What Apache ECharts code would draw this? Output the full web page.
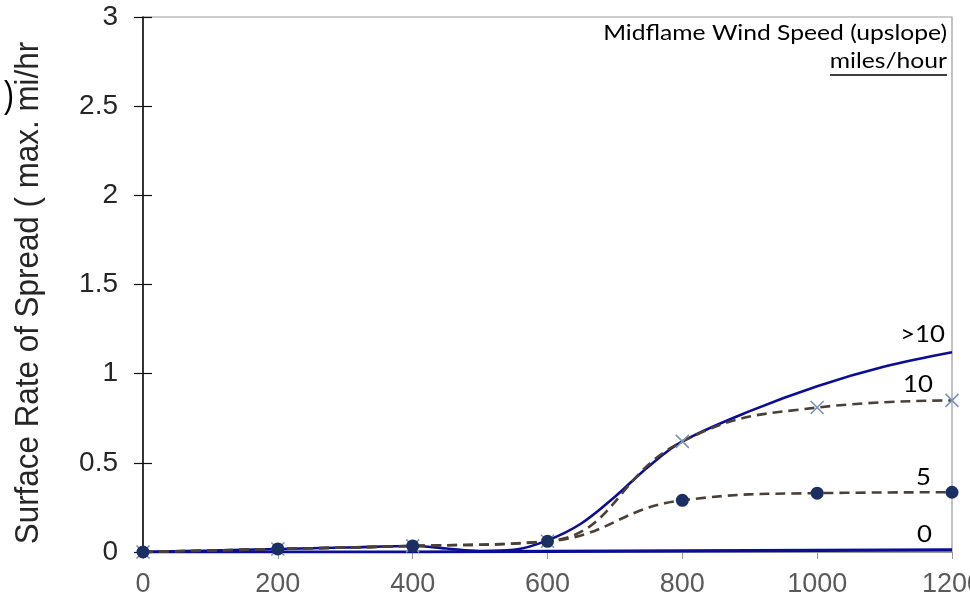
<!DOCTYPE html>
<html>
<head>
<meta charset="utf-8">
<script src="https://cdn.jsdelivr.net/npm/echarts@6/dist/echarts.min.js"></script>
<style>html,body{margin:0;padding:0;background:#fff}#c{width:970px;height:607px}</style>
</head>
<body>
<div id="c"></div>
<script>
// ---- data ----
const xTicks = [0, 200, 400, 600, 800, 1000, 1200];
const speed0 = [0, 0, 0, 0.003, 0.006, 0.009, 0.012];
const speed5 = [0, 0.017, 0.034, 0.06, 0.29, 0.33, 0.335];
const speed10 = [0, 0.017, 0.034, 0.06, 0.62, 0.81, 0.85];
const over10X = [0, 100, 200, 300, 400, 450, 500, 550, 600, 650, 700, 750, 800, 900, 1000, 1100, 1200];
const over10 = [0, 0.008, 0.017, 0.025, 0.034, 0.02, 0.006, 0.012, 0.065, 0.16, 0.31, 0.48, 0.62, 0.79, 0.93, 1.04, 1.12];
const seriesNames = ['0', '5', '10', '>10'];
const yTitle = 'Surface Rate of Spread ( max. mi/hr';
const legendTitle = 'Midflame Wind Speed (upslope)';
const legendUnit = 'miles/hour';

const pairs = (xs, ys) => xs.map((x, i) => [x, ys[i]]);
const NAVY = '#0b0d96';
const DASH = '#4a4038';

const chart = echarts.init(document.getElementById('c'));
chart.setOption({
  animation: false,
  grid: { left: 143, right: 18, top: 17, bottom: 55, show: true, borderColor: '#9a9a9a', borderWidth: 1.2,
    containLabel: false, outerBoundsMode: 'none' },
  xAxis: {
    type: 'value', min: 0, max: 1200, interval: 200,
    axisLine: { show: true, lineStyle: { color: '#9a9a9a', width: 1 } },
    axisTick: { show: true, length: 7, lineStyle: { color: '#9a9a9a' } },
    axisLabel: { color: '#5a5a5a', fontSize: 27, fontFamily: 'Liberation Sans', margin: 19,
      formatter: v => String(v), showMaxLabel: true, hideOverlap: false },
    splitLine: { show: false }
  },
  yAxis: [{
    type: 'value', min: 0, max: 3, interval: 0.5,
    axisLine: { show: true, lineStyle: { color: '#111', width: 1.6 } },
    axisTick: { show: true, length: 9, lineStyle: { color: '#111', width: 1.2 } },
    axisLabel: { color: '#262626', fontSize: 28, fontFamily: 'Liberation Sans', margin: 25 },
    splitLine: { show: false }
  }, {
    type: 'value', min: 0, max: 3, interval: 0.5, position: 'left',
    axisLine: { show: false },
    axisTick: { show: true, inside: true, length: 9, lineStyle: { color: '#111', width: 1.2 } },
    axisLabel: { show: false },
    splitLine: { show: false }
  }],
  series: [
    {
      name: seriesNames[0], type: 'line', data: pairs(xTicks, speed0), showSymbol: false, symbol: 'none',
      lineStyle: { color: NAVY, width: 3.2 }, z: 3
    },
    {
      name: seriesNames[3], type: 'line', data: pairs(over10X, over10), symbol: 'none', smooth: 0.35,
      lineStyle: { color: NAVY, width: 2.6 }, z: 4
    },
    {
      name: seriesNames[2], type: 'line', data: pairs(xTicks, speed10), smooth: 0.45,
      symbol: 'path://M0,0L10,10M10,0L0,10', symbolSize: 13,
      itemStyle: { color: 'rgba(0,0,0,0)', borderColor: '#7d93b3', borderWidth: 1.6 },
      lineStyle: { color: DASH, width: 2.6, type: [10, 6] }, z: 5
    },
    {
      name: seriesNames[1], type: 'line', data: pairs(xTicks, speed5), smooth: 0.45,
      symbol: 'circle', symbolSize: 13,
      itemStyle: { color: '#1c2f63', borderColor: '#1c2f63', borderWidth: 0 },
      lineStyle: { color: DASH, width: 2.6, type: [10, 6] }, z: 6
    }
  ]
});

function labelAt(text, x, y, dx, dy) {
  const p = chart.convertToPixel({ gridIndex: 0 }, [x, y]);
  return { type: 'text', x: p[0] + dx, y: p[1] + dy, z: 100, scaleX: 1.12,
    style: { text: text, fill: '#000', font: '23px Lato', align: 'right', verticalAlign: 'middle' } };
}
const last = xTicks.length - 1;
chart.setOption({
  graphic: [
    { type: 'text', x: 29, y: 293, rotation: Math.PI / 2, z: 100, scaleY: 1.08,
      style: { text: yTitle, fill: '#262626', font: '31.4px Liberation Sans', align: 'center', verticalAlign: 'middle' } },
    { type: 'text', x: 9, y: 97, z: 100, scaleY: 1.25,
      style: { text: ')', fill: '#000', font: '30px Liberation Sans', align: 'center', verticalAlign: 'middle' } },
    { type: 'text', x: 947, y: 33, z: 100, scaleX: 1.12,
      style: { text: legendTitle, fill: '#000', font: '22px Lato', align: 'right', verticalAlign: 'middle' } },
    { type: 'text', x: 947, y: 61, z: 100, scaleX: 1.12,
      style: { text: legendUnit, fill: '#000', font: '22px Lato', align: 'right', verticalAlign: 'middle' } },
    { type: 'line', z: 100, shape: { x1: 830, y1: 75, x2: 947, y2: 75 }, style: { stroke: '#000', lineWidth: 1.6 } },
    labelAt(seriesNames[3], 1200, over10[over10.length - 1], -7, -18),
    labelAt(seriesNames[2], 1200, speed10[last], -19, -16),
    labelAt(seriesNames[1], 1200, speed5[last], -21, -15),
    labelAt(seriesNames[0], 1200, speed0[last], -20, -15)
  ]
});
</script>
</body>
</html>
